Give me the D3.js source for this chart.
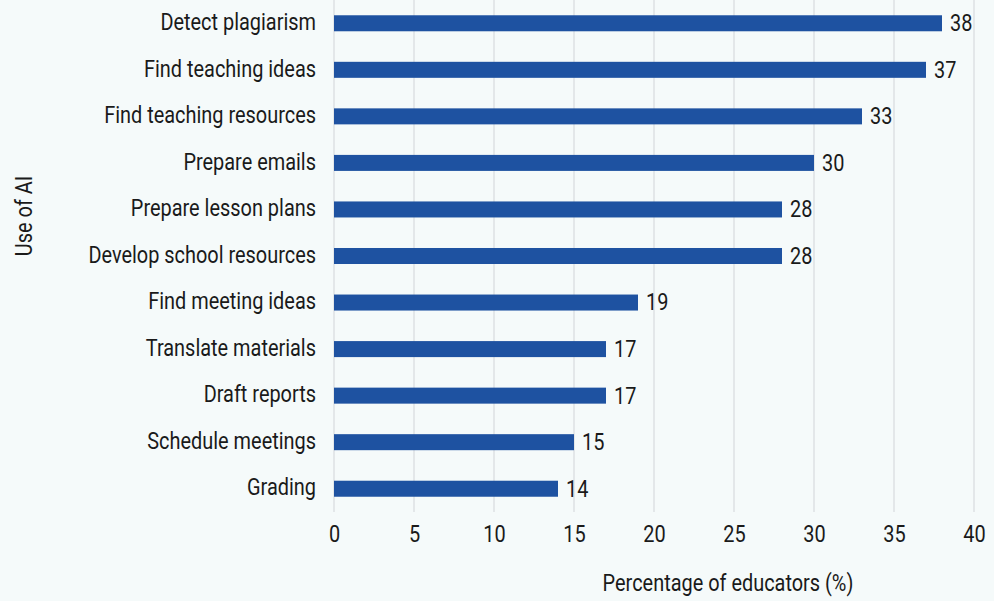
<!DOCTYPE html>
<html>
<head>
<meta charset="utf-8">
<script src="https://cdn.jsdelivr.net/npm/d3@7"></script>
<style>
  html, body { margin: 0; padding: 0; background: #f5fafa; }
  svg { display: block; }
  text { font-family: Roboto, "Noto Sans", sans-serif; fill: #1a1a1a; }
</style>
</head>
<body>
<svg id="chart" width="994" height="601"></svg>
<script>
const categories = [
  "Detect plagiarism", "Find teaching ideas", "Find teaching resources",
  "Prepare emails", "Prepare lesson plans", "Develop school resources",
  "Find meeting ideas", "Translate materials", "Draft reports",
  "Schedule meetings", "Grading"
];
const values = [38, 37, 33, 30, 28, 28, 19, 17, 17, 15, 14];
const xTicks = [0, 5, 10, 15, 20, 25, 30, 35, 40];
const xTitle = "Percentage of educators (%)";
const yTitle = "Use of AI";

const W = 994, H = 601;
const margin = { left: 334, right: 20, top: 0, bottom: 90 };
const fontSize = 24;
const squeeze = 0.83; // narrow the glyphs horizontally

const svg = d3.select("#chart");
svg.append("rect").attr("width", W).attr("height", H).attr("fill", "#f5fafa");

const x = d3.scaleLinear().domain([0, 40]).range([margin.left, W - margin.right]);
const y = d3.scaleBand().domain(categories)
  .range([margin.top, H - margin.bottom + 1])
  .paddingInner(0.656).paddingOuter(0.328);

const plotBottom = H - margin.bottom + 1;

// vertical gridlines
svg.append("g").selectAll("line").data(xTicks).join("line")
  .attr("x1", d => x(d)).attr("x2", d => x(d))
  .attr("y1", 0).attr("y2", plotBottom)
  .attr("stroke", "#d7dbde").attr("stroke-width", 1.2);

// bars
svg.append("g").selectAll("rect").data(values).join("rect")
  .attr("x", x(0))
  .attr("y", (d, i) => y(categories[i]))
  .attr("width", d => x(d) - x(0))
  .attr("height", y.bandwidth())
  .attr("fill", "#1e52a1");

// value labels
svg.append("g").selectAll("text").data(values).join("text")
  .attr("transform", (d, i) => `translate(${x(d) + 8},${y(categories[i]) + y.bandwidth() / 2}) scale(${squeeze},1)`)
  .attr("dy", "0.33em")
  .attr("font-size", fontSize)
  .text(d => d);

// y axis (category labels)
const yAxis = svg.append("g")
  .attr("transform", `translate(${x(0)},0)`)
  .call(d3.axisLeft(y).tickSize(0).tickPadding(18));
yAxis.select(".domain").remove();
yAxis.selectAll("text")
  .attr("font-size", fontSize)
  .attr("font-family", null)
  .attr("fill", "#1a1a1a")
  .attr("dy", "0.28em")
  .attr("transform", `scale(${squeeze},1)`)
  .attr("x", -18 / squeeze);

// x axis
const xAxis = svg.append("g")
  .attr("transform", `translate(0,${plotBottom})`)
  .call(d3.axisBottom(x).tickValues(xTicks).tickSize(0).tickPadding(12));
xAxis.select(".domain").remove();
xAxis.selectAll("text")
  .attr("font-size", fontSize)
  .attr("font-family", null)
  .attr("fill", "#1a1a1a")
  .attr("y", 13)
  .attr("dy", "0.71em")
  .attr("transform", `scale(${squeeze},1)`);

// axis titles
svg.append("text")
  .attr("transform", `translate(728,591) scale(${squeeze},1)`)
  .attr("text-anchor", "middle")
  .attr("font-size", fontSize)
  .text(xTitle);

svg.append("text")
  .attr("transform", `translate(32,216) rotate(-90) scale(${squeeze},1)`)
  .attr("text-anchor", "middle")
  .attr("font-size", fontSize)
  .text(yTitle);
</script>
</body>
</html>
